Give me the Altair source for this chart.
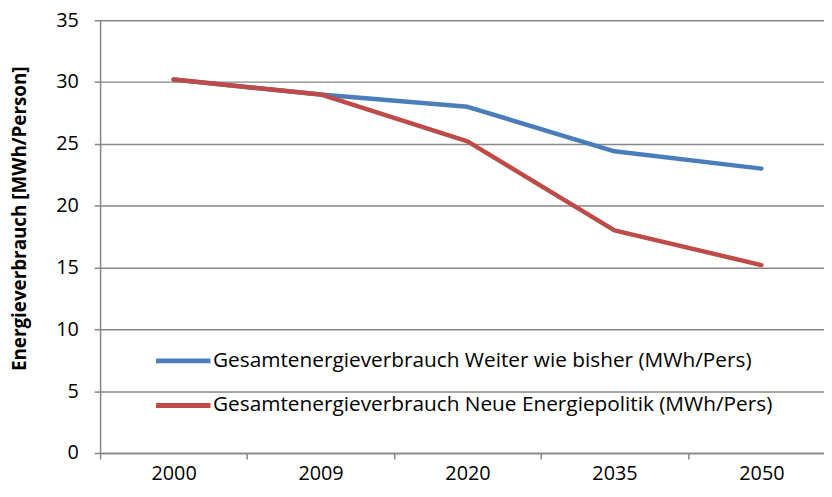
import altair as alt
import pandas as pd

years = ["2000", "2009", "2020", "2035", "2050"]
series_a = "Gesamtenergieverbrauch Weiter wie bisher (MWh/Pers)"
series_b = "Gesamtenergieverbrauch Neue Energiepolitik (MWh/Pers)"
values_a = [30.2, 29.0, 28.0, 24.4, 23.0]
values_b = [30.2, 29.0, 25.2, 18.0, 15.2]

df = pd.DataFrame({
    "Jahr": years * 2,
    "Wert": values_a + values_b,
    "Serie": [series_a] * 5 + [series_b] * 5,
    "order": list(range(5)) * 2,
})

FONT = "Open Sans"
FS = 20
GRID = "#868686"

chart = alt.Chart(df).mark_line(strokeWidth=4.5, strokeCap="round", strokeJoin="round").encode(
    x=alt.X("Jahr:O", sort=years, title=None,
            scale=alt.Scale(type="band", paddingInner=0, paddingOuter=0, range=[0, 742]),
            axis=alt.Axis(labelAngle=0, tickBand="extent", ticks=True, tickSize=6,
                          tickColor=GRID, domainColor=GRID, domainWidth=1.5, tickWidth=1.5,
                          labelFont=FONT, labelFontSize=FS, labelColor="#000000",
                          labelPadding=5, grid=False)),
    y=alt.Y("Wert:Q", title="Energieverbrauch [MWh/Person]",
            scale=alt.Scale(domain=[0, 35], nice=False),
            axis=alt.Axis(values=[0, 5, 10, 15, 20, 25, 30, 35], tickSize=6,
                          tickColor=GRID, domainColor=GRID, domainWidth=1.5, tickWidth=1.5,
                          gridColor=GRID, gridWidth=1.5, grid=True,
                          labelFont=FONT, labelFontSize=FS, labelColor="#000000",
                          labelPadding=16,
                          titleFont=FONT, titleFontSize=19, titleFontWeight="bold",
                          titleColor="#000000", titleX=-81, titleY=200,
                          titleBaseline="middle")),
    color=alt.Color("Serie:N", sort=[series_a, series_b],
                    scale=alt.Scale(domain=[series_a, series_b], range=["#4A7EBB", "#BE4B48"]),
                    legend=alt.Legend(title=None, orient="none", legendX=54, legendY=314,
                                      symbolType="stroke", symbolSize=3025, symbolStrokeWidth=5,
                                      labelFont=FONT, labelFontSize=21, labelColor="#000000",
                                      labelOffset=0, rowPadding=5, labelLimit=800)),
    order="order:Q",
).properties(
    width=731, height=437,
    autosize=alt.AutoSizeParams(type="none"),
    padding={"left": 93, "top": 10, "right": 0, "bottom": 34},
).configure_view(stroke=None)

chart.save("out.html", embed_options={"renderer": "svg", "actions": False})
